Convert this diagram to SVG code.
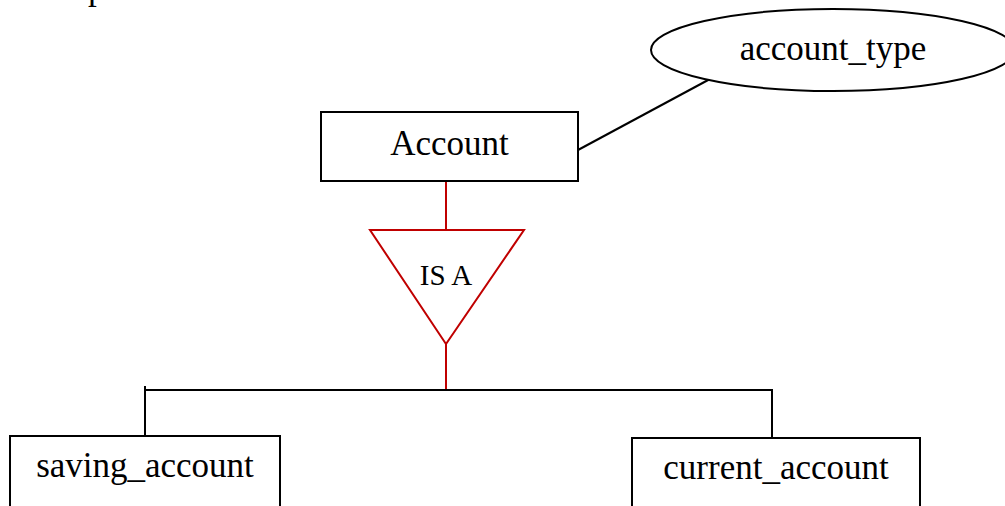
<svg xmlns="http://www.w3.org/2000/svg" width="1005" height="506" viewBox="0 0 1005 506">
<style>
.box{fill:#fff;stroke:#000;stroke-width:2}
.lbl{font-family:"Liberation Serif","Times New Roman",serif;font-size:35px;fill:#000;text-anchor:middle}
.small{font-size:29px}
.conn{fill:none;stroke:#000;stroke-width:2}
.red{fill:none;stroke:#c00000;stroke-width:2}
</style>
<rect width="1005" height="506" fill="#fff"/>
<text x="88" y="-1" class="lbl" style="text-anchor:start">p</text>
<g id="connectors">
<line class="conn" x1="578" y1="150" x2="710" y2="79"/>
<line class="red" x1="446" y1="181" x2="446" y2="230"/>
<line class="red" x1="446" y1="344" x2="446" y2="390"/>
<line class="conn" x1="145" y1="390" x2="772" y2="390"/>
<line class="conn" x1="145" y1="386" x2="145" y2="437"/>
<line class="conn" x1="772" y1="389" x2="772" y2="438"/>
</g>
<g id="account_type">
<ellipse class="box" cx="833" cy="50" rx="182" ry="41"/>
<text class="lbl" x="833" y="60">account_type</text>
</g>
<g id="account">
<rect class="box" x="321" y="112" width="257" height="69"/>
<text class="lbl" x="449.5" y="155">Account</text>
</g>
<g id="isa">
<polygon class="red" points="370,230 524,230 446,344" fill="#fff"/>
<text class="lbl small" x="446" y="285">IS A</text>
</g>
<g id="saving_account">
<rect class="box" x="10" y="436" width="270" height="80"/>
<text class="lbl" x="145" y="477">saving_account</text>
</g>
<g id="current_account">
<rect class="box" x="632" y="438" width="288" height="80"/>
<text class="lbl" x="776" y="479">current_account</text>
</g>
</svg>
